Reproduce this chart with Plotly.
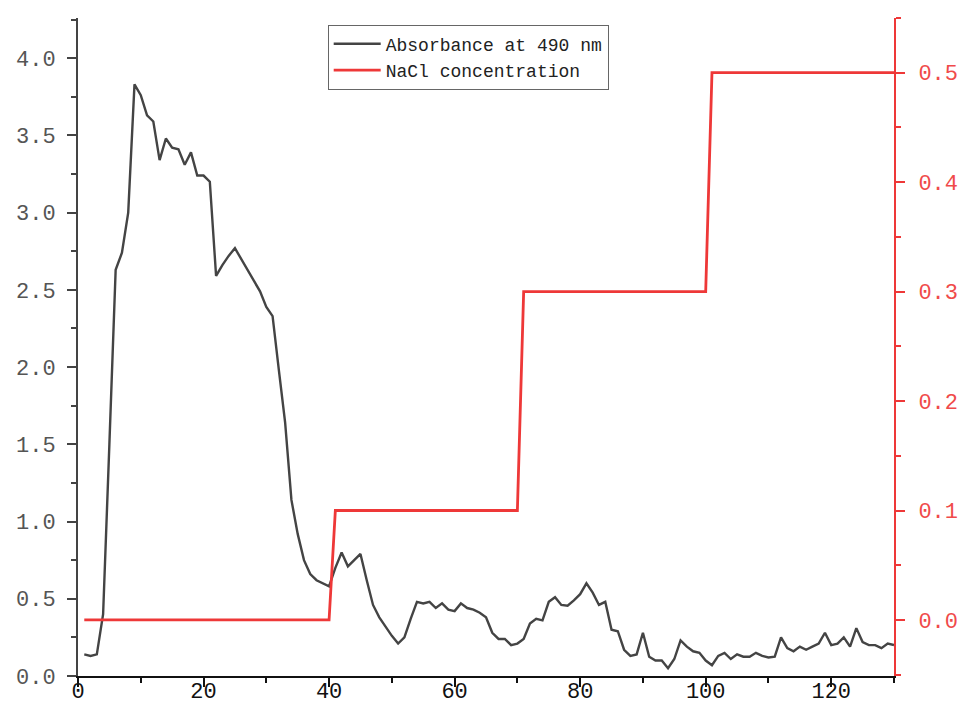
import plotly.graph_objects as go

fraction = list(range(1, 131))

absorbance = [
    0.14, 0.13, 0.14, 0.40, 1.50, 2.63, 2.74, 3.00, 3.83, 3.76,
    3.63, 3.59, 3.34, 3.48, 3.42, 3.41, 3.31, 3.39, 3.24, 3.24,
    3.20, 2.59, 2.66, 2.72, 2.77, 2.70, 2.63, 2.56, 2.49, 2.39,
    2.33, 1.98, 1.64, 1.14, 0.92, 0.75, 0.66, 0.62, 0.60, 0.58,
    0.70, 0.80, 0.71, 0.75, 0.79, 0.62, 0.46, 0.38, 0.32, 0.26,
    0.21, 0.25, 0.37, 0.48, 0.47, 0.48, 0.44, 0.47, 0.43, 0.42,
    0.47, 0.44, 0.43, 0.41, 0.38, 0.28, 0.24, 0.24, 0.20, 0.21,
    0.24, 0.34, 0.37, 0.36, 0.48, 0.51, 0.46, 0.455, 0.49, 0.53,
    0.60, 0.54, 0.46, 0.48, 0.30, 0.29, 0.17, 0.13, 0.14, 0.28,
    0.125, 0.10, 0.10, 0.05, 0.11, 0.23, 0.19, 0.16, 0.15, 0.10,
    0.07, 0.13, 0.15, 0.11, 0.14, 0.125, 0.125, 0.15, 0.13, 0.12,
    0.125, 0.25, 0.18, 0.16, 0.19, 0.17, 0.19, 0.21, 0.28, 0.20,
    0.21, 0.25, 0.19, 0.31, 0.22, 0.20, 0.20, 0.18, 0.21, 0.20,
]

nacl = [0.0] * 40 + [0.1] * 30 + [0.3] * 30 + [0.5] * 30

left_ticks = [0.0, 0.5, 1.0, 1.5, 2.0, 2.5, 3.0, 3.5, 4.0]
right_ticks = [0.0, 0.1, 0.2, 0.3, 0.4, 0.5]
x_ticks = [0, 20, 40, 60, 80, 100, 120]

FONT = "Liberation Mono"
RED = "#ee3838"
RED_TXT = "#f04a4a"
GRAY = "#444444"

fig = go.Figure()
fig.add_trace(go.Scatter(
    x=fraction, y=absorbance, mode="lines", name="Absorbance at 490 nm",
    line=dict(color=GRAY, width=2.4), yaxis="y"))
fig.add_trace(go.Scatter(
    x=fraction, y=nacl, mode="lines", name="NaCl concentration",
    line=dict(color=RED, width=2.8), yaxis="y2"))

fig.update_layout(
    width=958, height=724,
    margin=dict(l=78, r=64, t=18, b=48, autoexpand=False),
    paper_bgcolor="white", plot_bgcolor="white",
    font=dict(family=FONT, size=22, color="#333333"),
    showlegend=True,
    legend=dict(
        x=0.306, y=0.99, xanchor="left", yanchor="top",
        bgcolor="white", bordercolor="#666666", borderwidth=1,
        font=dict(family=FONT, size=18, color="#222222"),
        tracegroupgap=0, itemwidth=47,
    ),
    xaxis=dict(
        range=[0, 130], tickvals=x_ticks, ticktext=[str(v) for v in x_ticks],
        automargin=False,
        showgrid=False, zeroline=False, showline=True, linecolor="#111111",
        linewidth=2, ticks="outside", ticklen=9, tickwidth=2, tickcolor="#111111",
        minor=dict(dtick=10, tick0=0, ticks="outside", ticklen=5, tickwidth=2,
                   tickcolor="#111111", showgrid=False),
        tickfont=dict(family=FONT, size=22, color="#111111"),
        ticklabelstandoff=-15,
    ),
    yaxis=dict(
        range=[0, 4.26], tickvals=left_ticks,
        ticktext=[f"{v:.1f}" for v in left_ticks],
        automargin=False,
        showgrid=False, zeroline=False, showline=True, linecolor="#444444",
        linewidth=2, ticks="outside", ticklen=9, tickwidth=2, tickcolor="#444444",
        minor=dict(dtick=0.25, tick0=0, ticks="outside", ticklen=5, tickwidth=2,
                   tickcolor="#444444", showgrid=False),
        tickfont=dict(family=FONT, size=22, color="#555555"),
        ticklabelstandoff=7,
    ),
    yaxis2=dict(
        range=[-0.0512, 0.55], overlaying="y", side="right", anchor="x",
        tickvals=right_ticks, ticktext=[f"{v:.1f}" for v in right_ticks],
        automargin=False,
        showgrid=False, zeroline=False, showline=True, linecolor=RED,
        linewidth=2, ticks="outside", ticklen=9, tickwidth=2, tickcolor=RED,
        minor=dict(dtick=0.05, tick0=0, ticks="outside", ticklen=5, tickwidth=2,
                   tickcolor=RED, showgrid=False),
        tickfont=dict(family=FONT, size=22, color=RED_TXT),
        ticklabelstandoff=9,
    ),
)

# remove the default page margin so the 958x724 figure fills the window exactly
fig.write_html(
    "out.html",
    config={"displayModeBar": False},
    post_script="document.body.style.margin='0';document.body.style.overflow='hidden';",
)
